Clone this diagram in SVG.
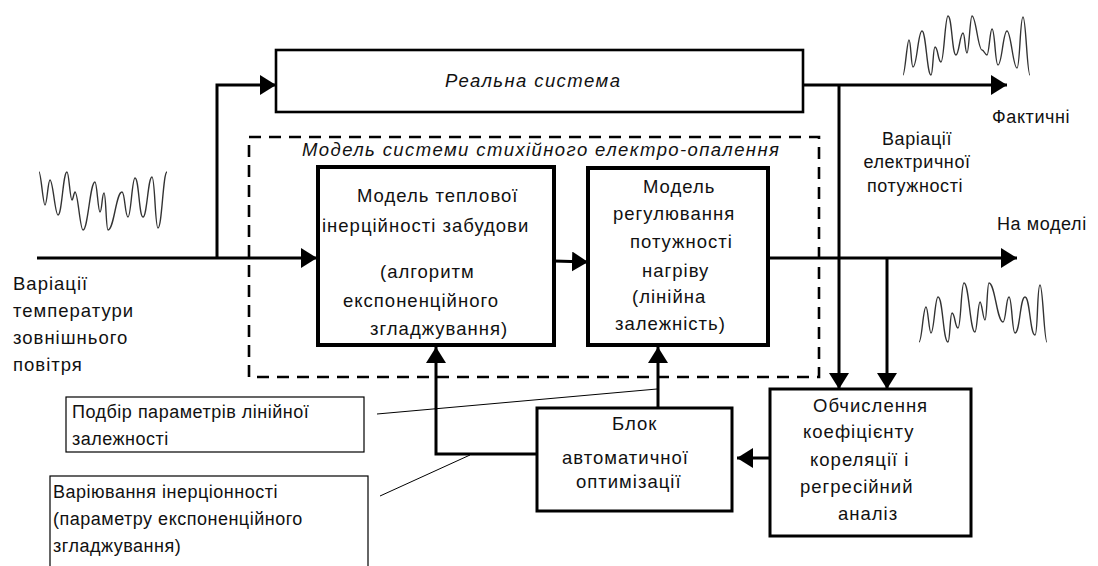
<svg xmlns="http://www.w3.org/2000/svg" width="1098" height="566" viewBox="0 0 1098 566">
<style>
text{font-family:"Liberation Sans",Arial,sans-serif;font-size:18.5px;fill:#111;letter-spacing:1px}
.it{font-style:italic;font-size:18.5px;letter-spacing:1.4px}
.sm{font-size:18px;letter-spacing:0.6px}
.mid{text-anchor:middle}
.cl{font-size:18px;letter-spacing:0.5px}
.thick{fill:#fff;stroke:#000;stroke-width:4}
.med{fill:#fff;stroke:#000;stroke-width:3}
.rs{fill:#fff;stroke:#000;stroke-width:2.6}
.thin{fill:#fff;stroke:#000;stroke-width:1.2}
.dash{fill:none;stroke:#000;stroke-width:2.6;stroke-dasharray:12 8}
.ln{fill:none;stroke:#000;stroke-width:3}
.ar{marker-end:url(#ah)}
.cal{fill:none;stroke:#000;stroke-width:1}
.sig{fill:none;stroke:#333;stroke-width:1.4}
</style>
<defs>
<marker id="ah" markerUnits="userSpaceOnUse" markerWidth="17" markerHeight="20" refX="16" refY="10" orient="auto">
<path d="M0,0 L16,10 L0,20 z" fill="#000"/>
</marker>
</defs>
<rect width="1098" height="566" fill="#fff"/>

<g id="signals">
<path class="sig" d="M39,172 C41,172 43,205 45,205 C47,205 48,180 50,180 C53,180 55,215 58,215 C62,215 63,172 67,172 C69,172 70,200 72,200 C73,200 74,192 75,192 C78,192 80,230 83,230 C88,230 90,182 95,182 C97,182 98,212 100,212 C102,212 102,193 104,193 C106,193 106,230 108,230 C114,230 116,192 122,192 C125,192 125,217 128,217 C131,217 132,178 135,178 C139,178 139,217 143,217 C147,217 148,177 152,177 C155,177 155,228 158,228 C162,228 163,172 167,172"/>
<path class="sig" d="M903,75 C905,75 907,40 909,40 C911,40 911,67 913,67 C917,67 918,31 922,31 C926,31 927,75 931,75 C933,75 933,47 935,47 C938,47 938,62 941,62 C944,62 945,16 948,16 C952,16 952,55 956,55 C959,55 960,33 963,33 C965,33 965,53 967,53 C969,53 970,16 972,16 C976,16 978,50 982,50 C984,50 985,55 987,55 C989,55 990,29 992,29 C995,29 995,65 998,65 C1002,65 1003,31 1007,31 C1011,31 1013,68 1017,68 C1020,68 1020,17 1023,17 C1026,17 1027,75 1030,75"/>
<path class="sig" d="M919,342 C922,342 923,307 926,307 C928,307 929,333 931,333 C934,333 935,297 938,297 C943,297 943,342 948,342 C950,342 950,313 952,313 C955,313 955,328 958,328 C961,328 961,283 964,283 C969,283 970,332 975,332 C977,332 978,302 980,302 C982,302 983,320 985,320 C987,320 987,283 989,283 C995,283 997,322 1003,322 C1006,322 1006,297 1009,297 C1012,297 1012,333 1015,333 C1020,333 1020,297 1025,297 C1030,297 1030,335 1035,335 C1038,335 1037,285 1040,285 C1043,285 1044,342 1047,342"/>
</g>

<g id="model-system">
<rect class="dash" x="249" y="137" width="570" height="240"/>
<text class="it" x="302" y="156">Модель системи стихійного електро-опалення</text>
</g>

<g id="real-system">
<rect class="rs" x="276" y="50" width="527" height="62"/>
<text class="it" x="445" y="87">Реальна система</text>
</g>

<g id="thermal-model">
<rect class="thick" x="318" y="167" width="236" height="178"/>
<text x="357" y="202">Модель теплової</text>
<text x="322" y="232">інерційності забудови</text>
<text x="380" y="278">(алгоритм</text>
<text x="343" y="307">експоненційного</text>
<text x="370" y="335">згладжування)</text>
</g>

<g id="power-model">
<rect class="thick" x="588" y="168" width="180" height="177"/>
<text x="643" y="193">Модель</text>
<text x="613" y="220">регулювання</text>
<text x="630" y="248">потужності</text>
<text x="642" y="277">нагріву</text>
<text x="632" y="303">(лінійна</text>
<text x="615" y="330">залежність)</text>
</g>

<g id="correlation">
<rect class="med" x="770" y="389" width="201" height="147"/>
<text x="813" y="412">Обчислення</text>
<text x="803" y="438">коефіцієнту</text>
<text x="810" y="466">кореляції і</text>
<text x="800" y="493">регресійний</text>
<text x="838" y="520">аналіз</text>
</g>

<g id="optimization">
<rect class="med" x="537" y="408" width="195" height="103"/>
<text x="612" y="430">Блок</text>
<text x="562" y="464">автоматичної</text>
<text x="576" y="488">оптимізації</text>
</g>

<g id="note-linear">
<rect class="thin" x="66" y="397" width="298" height="55"/>
<text class="cl" x="72" y="418">Подбір параметрів лінійної</text>
<text class="cl" x="72" y="445">залежності</text>
</g>

<g id="note-inertia">
<rect class="thin" x="50" y="476" width="318" height="100"/>
<text class="cl" x="53" y="498">Варіювання інерціонності</text>
<text class="cl" x="53" y="525">(параметру експоненційного</text>
<text class="cl" x="53" y="552">згладжування)</text>
</g>

<g id="labels">
<text x="13" y="290">Варіації</text>
<text x="13" y="317">температури</text>
<text x="13" y="344">зовнішнього</text>
<text x="13" y="371">повітря</text>
<text class="sm" x="992" y="123">Фактичні</text>
<text class="sm mid" x="917" y="145">Варіації</text>
<text class="sm mid" x="917" y="168">електричної</text>
<text class="sm mid" x="915" y="192">потужності</text>
<text class="sm" x="997" y="230">На моделі</text>
</g>

<g id="connectors">
<path class="ln ar" d="M37,258 H317"/>
<path class="ln ar" d="M217,258 V85 H276"/>
<path class="ln ar" d="M554,261 L588,262"/>
<path class="ln ar" d="M768,258 H1017"/>
<path class="ln ar" d="M803,85 H1007"/>
<path class="ln ar" d="M839,85 V389"/>
<path class="ln ar" d="M887,258 V389"/>
<path class="ln ar" d="M770,458 H737"/>
<path class="ln ar" d="M537,454 H436 V347"/>
<path class="ln ar" d="M658,408 V347"/>
<path class="cal" d="M377,414 L657,389"/>
<path class="cal" d="M380,496 L470,455"/>
</g>
</svg>
